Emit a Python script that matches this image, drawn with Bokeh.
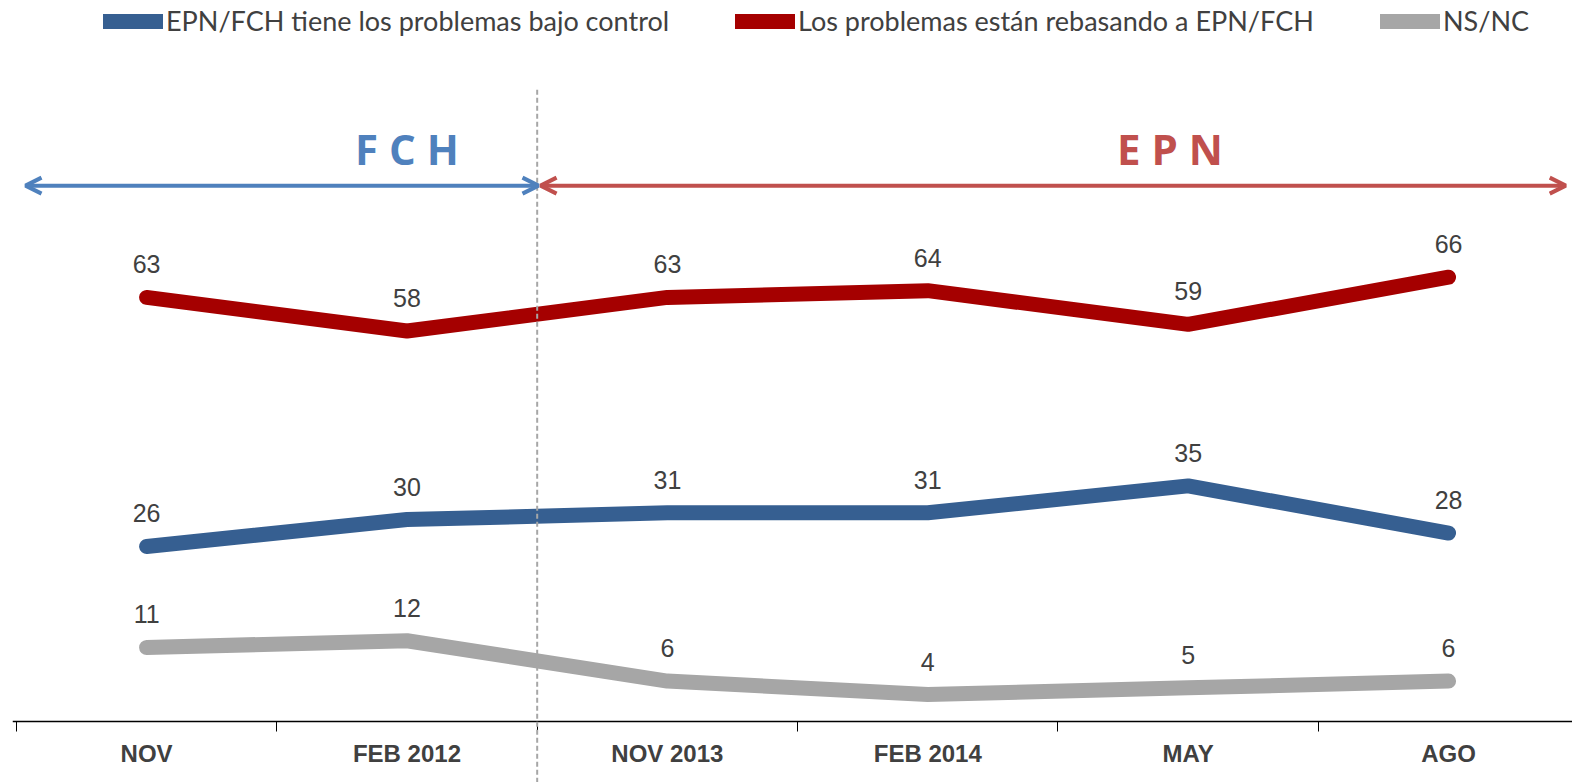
from bokeh.plotting import figure
from bokeh.models import (ColumnDataSource, Range1d, FixedTicker, Legend, LegendItem,
                          Arrow, OpenHead, Label)
from bokeh.core.properties import value
from bokeh.embed import file_html
from bokeh.resources import INLINE

categories = ["NOV", "FEB 2012", "NOV 2013", "FEB 2014", "MAY", "AGO"]
control = [26, 30, 31, 31, 35, 28]
rebasando = [63, 58, 63, 64, 59, 66]
nsnc = [11, 12, 6, 4, 5, 6]
series_names = ["EPN/FCH tiene los problemas bajo control",
                "Los problemas están rebasando a EPN/FCH",
                "NS/NC"]
colors = ["#365F91", "#A50000", "#A6A6A6"]

xs = list(range(len(categories)))

p = figure(width=1572, height=782, output_backend="svg", toolbar_location=None,
           x_range=Range1d(-0.515, 5.476), y_range=Range1d(-9.06, 107.1),
           y_axis_location=None, min_border_left=12, min_border_right=0,
           min_border_top=0, min_border_bottom=0)
p.outline_line_color = None
p.xgrid.visible = False
p.ygrid.visible = False
p.background_fill_color = "white"

# dashed separator (extends below axis)
p.add_layout(Arrow(start=None, end=None, x_start=1.5, x_end=1.5, y_start=-9.1, y_end=94.1,
                   line_color="#A6A6A6", line_width=2, line_dash="5 3"))

# period arrows
p.add_layout(Arrow(start=OpenHead(size=16, line_color="#4F81BD", line_width=4),
                   end=OpenHead(size=16, line_color="#4F81BD", line_width=4),
                   x_start=-0.465, x_end=1.505, y_start=79.6, y_end=79.6,
                   line_color="#4F81BD", line_width=4))
p.add_layout(Arrow(start=OpenHead(size=16, line_color="#C0504D", line_width=4),
                   end=OpenHead(size=16, line_color="#C0504D", line_width=4),
                   x_start=1.513, x_end=5.45, y_start=79.6, y_end=79.6,
                   line_color="#C0504D", line_width=4))
p.add_layout(Label(x=1.0, y=85.1, text="F C H", text_align="center", text_baseline="middle",
                   text_font="Open Sans", text_font_style="bold", text_font_size="42px",
                   text_color="#4F81BD"))
p.add_layout(Label(x=3.93, y=85.1, text="E P N", text_align="center", text_baseline="middle",
                   text_font="Open Sans", text_font_style="bold", text_font_size="42px",
                   text_color="#C0504D"))

renderers = []
for vals, col in zip([control, rebasando, nsnc], colors):
    src = ColumnDataSource(dict(x=xs, y=vals, t=[str(v) for v in vals]))
    r = p.line("x", "y", source=src, line_color=col, line_width=15,
               line_cap="round", line_join="round")
    renderers.append(r)
    p.text("x", "y", text="t", source=src, y_offset=-33, text_align="center",
           text_baseline="middle", text_font=value("Liberation Sans"),
           text_font_size="25px", text_color="#404040")

# legends (frame-relative screen positions)
leg_x = [91, 723, 1368]
for name, r, lx in zip(series_names, renderers, leg_x):
    leg = Legend(items=[LegendItem(label=name, renderers=[r])], location=(lx, 745),
                 orientation="horizontal", glyph_width=60, glyph_height=20,
                 label_standoff=3, padding=0, margin=0, border_line_color=None,
                 background_fill_alpha=0, label_text_font="Lato",
                 label_text_font_size="27px", label_text_color="#404040")
    p.add_layout(leg, "center")

ax = p.xaxis[0]
ax.fixed_location = 0
ax.ticker = FixedTicker(ticks=xs, minor_ticks=[i - 0.5 for i in range(len(categories) + 1)])
ax.major_label_overrides = {i: c for i, c in enumerate(categories)}
ax.major_tick_line_color = None
ax.major_tick_out = 0
ax.major_tick_in = 0
ax.minor_tick_line_color = "#000000"
ax.minor_tick_out = 10
ax.minor_tick_in = 0
ax.axis_line_color = "#000000"
ax.axis_line_width = 1.5
ax.major_label_standoff = 8
ax.major_label_text_font = "Liberation Sans"
ax.major_label_text_font_style = "bold"
ax.major_label_text_font_size = "24px"
ax.major_label_text_color = "#404040"

open("out.html", "w").write(file_html(p, INLINE))
